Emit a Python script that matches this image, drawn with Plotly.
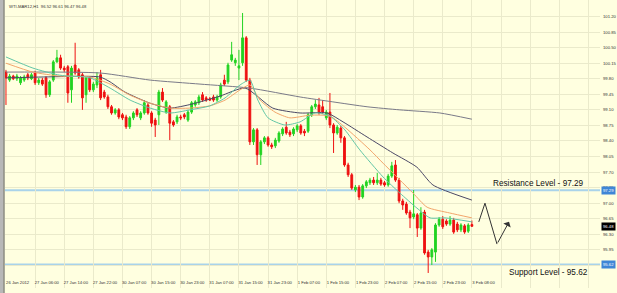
import plotly.graph_objects as go

# ---------------- data ----------------
opens = [99.95,99.77,99.86,99.80,99.71,99.77,99.89,99.80,99.93,99.71,
         99.77,99.82,99.44,99.77,100.18,100.27,100.04,100.07,99.55,100.11,
         100.00,99.89,99.44,99.82,99.55,99.66,99.89,99.50,99.39,99.17,
         99.03,99.10,98.99,98.94,98.72,98.92,99.10,98.92,99.03,99.21,
         99.03,98.87,98.99,99.50,99.05,99.17,98.83,98.83,98.94,98.99,
         98.87,99.05,99.21,99.26,99.44,99.37,99.35,99.39,99.32,99.39,
         99.77,99.73,100.22,100.16,100.04,100.16,100.72,99.77,98.38,98.65,
         98.09,98.38,98.47,98.31,98.29,98.40,98.56,98.71,98.60,98.56,
         98.65,98.74,98.62,98.62,98.99,99.17,99.21,99.17,98.92,99.05,
         98.76,98.58,98.69,98.47,97.86,97.64,97.30,97.36,97.14,97.39,
         97.46,97.52,97.46,97.52,97.46,97.41,97.61,97.86,97.52,97.05,
         96.98,96.80,96.69,96.74,96.44,96.80,95.90,95.79,95.90,96.51,
         96.64,96.60,96.53,96.62,96.53,96.40,96.49,96.37,96.52]
highs = [100.00,99.91,99.89,99.91,99.86,99.89,99.93,99.93,99.98,99.82,
         99.82,99.86,99.77,100.22,100.45,100.34,100.09,100.11,100.09,100.61,
         100.04,99.93,99.86,99.86,99.73,99.95,100.00,99.55,99.44,99.21,
         99.14,99.14,99.03,98.99,98.96,99.07,99.14,99.07,99.32,99.26,
         99.07,98.92,99.55,99.59,99.32,99.21,98.87,98.99,98.99,99.03,
         99.10,99.30,99.32,99.44,99.50,99.41,99.39,99.44,99.44,99.71,
         99.89,100.16,100.63,100.27,100.45,101.28,100.76,99.82,98.69,98.69,
         98.42,98.51,98.51,98.36,98.47,98.62,98.71,98.83,98.65,98.71,
         98.78,98.78,98.67,99.03,99.21,99.32,99.37,99.32,99.10,99.48,
         98.80,98.76,98.74,98.51,97.91,97.68,97.41,97.41,97.43,97.52,
         97.57,97.59,97.68,97.57,97.50,97.66,97.93,97.97,97.57,97.10,
         97.03,96.85,97.30,96.78,96.91,96.85,95.95,95.99,96.55,96.69,
         96.71,96.64,96.71,96.67,96.58,96.55,96.53,96.55,96.61]
lows = [99.21,99.73,99.77,99.75,99.66,99.73,99.77,99.77,99.66,99.66,
        99.64,99.37,99.39,99.73,100.16,100.00,99.95,99.26,99.26,99.89,
        99.80,99.10,99.26,99.50,99.50,99.59,99.32,99.35,99.12,98.99,
        98.99,98.89,98.87,98.67,98.67,98.87,98.94,98.87,98.99,98.99,
        98.72,98.49,98.76,99.28,99.01,98.42,98.72,98.78,98.87,98.89,
        98.83,99.01,99.17,99.21,99.28,99.28,99.30,99.28,99.28,99.35,
        99.64,99.68,100.18,100.09,99.77,100.09,99.73,98.31,98.31,97.86,
        97.86,98.33,98.27,98.22,98.24,98.36,98.51,98.54,98.49,98.51,
        98.60,98.54,98.51,98.58,98.94,99.12,98.99,99.01,98.87,98.69,
        98.13,98.54,98.36,97.82,97.59,97.30,97.25,97.07,97.10,97.34,
        97.41,97.41,97.41,97.39,97.37,97.37,97.57,97.48,97.00,96.85,
        96.74,96.44,96.64,96.24,96.40,95.84,95.43,95.61,95.68,96.47,
        96.42,96.49,96.49,96.31,96.35,96.35,96.31,96.33,96.47]
closes = [99.82,99.86,99.80,99.86,99.82,99.84,99.82,99.89,99.71,99.77,
          99.68,99.44,99.73,100.18,100.27,100.04,100.00,99.48,100.04,99.93,
          99.84,99.37,99.82,99.55,99.68,99.82,99.37,99.39,99.17,99.03,
          99.10,98.94,98.92,98.72,98.92,99.03,98.99,99.03,99.26,99.03,
          98.80,98.76,99.50,99.32,99.28,98.80,98.76,98.94,98.92,98.94,
          99.05,99.26,99.28,99.39,99.32,99.32,99.32,99.32,99.39,99.66,
          99.68,100.11,100.34,100.22,100.09,100.72,99.77,98.38,98.65,98.09,
          98.38,98.47,98.31,98.27,98.42,98.58,98.67,98.58,98.54,98.67,
          98.74,98.58,98.58,98.99,99.17,99.23,99.03,99.05,99.05,98.76,
          98.58,98.71,98.47,97.86,97.64,97.34,97.36,97.14,97.39,97.48,
          97.52,97.46,97.52,97.43,97.41,97.61,97.84,97.52,97.05,96.96,
          96.78,96.67,96.76,96.44,96.78,95.88,95.79,95.95,96.51,96.64,
          96.47,96.53,96.62,96.35,96.40,96.51,96.35,96.51,96.48]

tick_bars = [0, 8, 16, 24, 32, 40, 48, 56, 64, 72, 80, 88, 96, 104, 112, 120, 128]
tick_text = ["26 Jan 2012", "27 Jan 06:00", "27 Jan 14:00", "27 Jan 22:00",
             "30 Jan 07:00", "30 Jan 15:00", "30 Jan 23:00", "31 Jan 07:00",
             "31 Jan 15:00", "31 Jan 23:00", "1 Feb 07:00", "1 Feb 15:00",
             "1 Feb 23:00", "2 Feb 07:00", "2 Feb 15:00", "2 Feb 23:00",
             "3 Feb 08:00"]
grid_bars = [0, 8, 16, 24, 32, 40, 48, 56, 64, 72, 80, 88, 96, 104, 112, 120,
             128, 136, 144, 152, 160]
price_ticks = [95.25, 95.60, 95.95, 96.30, 96.65, 97.00, 97.35, 97.70, 98.05,
               98.40, 98.75, 99.10, 99.45, 99.80, 100.15, 100.50, 100.85,
               101.20, 101.55]

# moving averages (sampled along the lines)
ma_gray_x = [0, 25.8, 39.6, 53.3, 67, 80.8, 89.8, 99.2, 108.2, 119.2, 128]
ma_gray_y = [99.95, 99.93, 99.77, 99.68, 99.59, 99.39, 99.28, 99.17, 99.10, 99.03, 98.89]
ma_slate_x = [0, 10.4, 25.8, 28.6, 32.7, 39.6, 45, 51.1, 58.8, 65.7, 73.3, 80.8,
              88.2, 92.6, 99.2, 106.3, 112.9, 117.3, 128]
ma_slate_y = [99.82, 99.84, 99.84, 99.73, 99.50, 99.25, 99.14, 99.23, 99.41, 99.59,
              99.14, 99.03, 99.03, 98.83, 98.49, 98.13, 97.81, 97.41, 97.07]
ma_orange_x = [0, 7.4, 14.8, 23.1, 28.6, 34.1, 39.6, 45.1, 50.5, 56, 60.2, 64.3, 67,
               69.8, 73.9, 78, 83.5, 89, 93.1, 100, 103.6, 111.8, 115.7, 121.9, 128]
ma_orange_y = [100.15, 99.95, 99.86, 99.84, 99.68, 99.43, 99.25, 99.14, 99.14, 99.19,
               99.32, 99.55, 99.66, 99.32, 99.05, 98.92, 98.98, 98.96, 98.71, 98.20,
               97.90, 97.23, 96.91, 96.78, 96.67]
ma_teal_x = [0, 7.4, 14.8, 23.1, 28.6, 34.1, 39.6, 45.1, 50.5, 56, 60.2, 64.3, 67,
             69.2, 72, 76.6, 80.8, 84.9, 89, 93.1, 97.2, 103.6, 108.2, 112.9, 116.5,
             120.6, 128]
ma_teal_y = [100.29, 100.04, 99.88, 99.82, 99.59, 99.32, 99.14, 99.03, 99.10, 99.19,
             99.37, 99.66, 99.77, 99.32, 98.92, 98.76, 98.83, 99.03, 98.96, 98.65,
             98.20, 97.59, 97.23, 96.89, 96.67, 96.67, 96.58]

zig_x = [129.9, 131.6, 134.9, 138.2]
zig_y = [96.58, 97.00, 96.08, 96.58]

resistance = 97.29
support = 95.62
last_price = 96.48
header = "WTI-MAR12,H1  96.52 96.61 96.47 96.48"

# ---------------- figure ----------------
BG = "#FFFFE0"
GRID = "#EAEACB"
FONT = "Arial, Liberation Sans, sans-serif"
SMALL = 4.2

fig = go.Figure()

for xs, ys, col in [(ma_gray_x, ma_gray_y, "#7A7A88"),
                    (ma_slate_x, ma_slate_y, "#4B4866"),
                    (ma_orange_x, ma_orange_y, "#F2A56B"),
                    (ma_teal_x, ma_teal_y, "#62C6A6")]:
    fig.add_trace(go.Scatter(x=xs, y=ys, mode="lines",
                             line=dict(color=col, width=1, shape="spline", smoothing=0.6),
                             hoverinfo="skip", showlegend=False))

fig.add_trace(go.Candlestick(
    x=list(range(len(opens))), open=opens, high=highs, low=lows, close=closes,
    increasing=dict(line=dict(color="#22D322", width=1), fillcolor="#22D322"),
    decreasing=dict(line=dict(color="#EE1111", width=1), fillcolor="#EE1111"),
    whiskerwidth=0, showlegend=False))

fig.add_trace(go.Scatter(x=zig_x[:3], y=zig_y[:3], mode="lines",
                         line=dict(color="#333333", width=1),
                         hoverinfo="skip", showlegend=False))
fig.add_annotation(x=zig_x[3], y=zig_y[3], ax=zig_x[2], ay=zig_y[2],
                   xref="x", yref="y", axref="x", ayref="y", text="",
                   showarrow=True, arrowhead=1, arrowsize=1.4, arrowwidth=1,
                   arrowcolor="#333333")

# support / resistance lines
for lvl in (resistance, support):
    fig.add_shape(type="line", xref="paper", yref="y", x0=0, x1=1.0,
                  y0=lvl, y1=lvl, line=dict(color="#A9D3EA", width=2), layer="below")

fig.add_annotation(x=146.2, y=resistance, xref="x", yref="y", yanchor="bottom",
                   yshift=0, text="Resistance Level - 97.29", showarrow=False,
                   font=dict(family=FONT, size=8.2, color="#111111"))
fig.add_annotation(x=149.0, y=support, xref="x", yref="y", yanchor="top",
                   yshift=-1, text="Support Level - 95.62", showarrow=False,
                   font=dict(family=FONT, size=8.2, color="#111111"))

# price boxes on the axis
for lvl, bg in ((resistance, "#3F86D6"), (support, "#3F86D6"), (last_price, "#000000")):
    fig.add_annotation(x=1.0, y=lvl, xref="paper", yref="y", xanchor="left",
                       xshift=1, text=f"{lvl:.2f}", showarrow=False, bgcolor=bg,
                       borderpad=1, font=dict(family=FONT, size=SMALL, color="#FFFFFF"))

fig.add_annotation(x=0, y=1, xref="paper", yref="paper", xanchor="left", yanchor="top",
                   xshift=2, yshift=-2, text=header, showarrow=False,
                   font=dict(family=FONT, size=SMALL, color="#333333"))

# left frame
fig.add_shape(type="rect", xref="paper", yref="paper", x0=-5 / 595, x1=-1.5 / 595,
              y0=-0.1, y1=1.1, fillcolor="#B8B8B8", line=dict(width=0))
fig.add_shape(type="line", xref="paper", yref="paper", x0=-1 / 595, x1=-1 / 595,
              y0=-0.1, y1=1.1, line=dict(color="#555555", width=1))

fig.update_layout(
    width=617, height=293,
    margin=dict(l=5, r=17, t=0, b=5),
    paper_bgcolor=BG, plot_bgcolor=BG,
    showlegend=False,
    font=dict(family=FONT, size=SMALL, color="#333333"),
    xaxis=dict(range=[-0.27, 163.2], rangeslider=dict(visible=False),
               tickvals=[b + 3.2 for b in tick_bars], ticktext=tick_text,
               ticklabelposition="inside", tickangle=0, ticks="", showgrid=False,
               zeroline=False, showline=False,
               tickfont=dict(family=FONT, size=SMALL, color="#333333"),
               minor=dict(tickvals=grid_bars, showgrid=True, gridcolor=GRID,
                          gridwidth=1, ticks="")),
    yaxis=dict(range=[95.092, 101.572], side="right", tickvals=price_ticks,
               ticktext=[f"{v:.2f}" for v in price_ticks], showgrid=True,
               gridcolor=GRID, gridwidth=1, zeroline=False, ticks="",
               ticklabelstandoff=2,
               tickfont=dict(family=FONT, size=SMALL, color="#333333")),
)

fig.write_html("out.html")
